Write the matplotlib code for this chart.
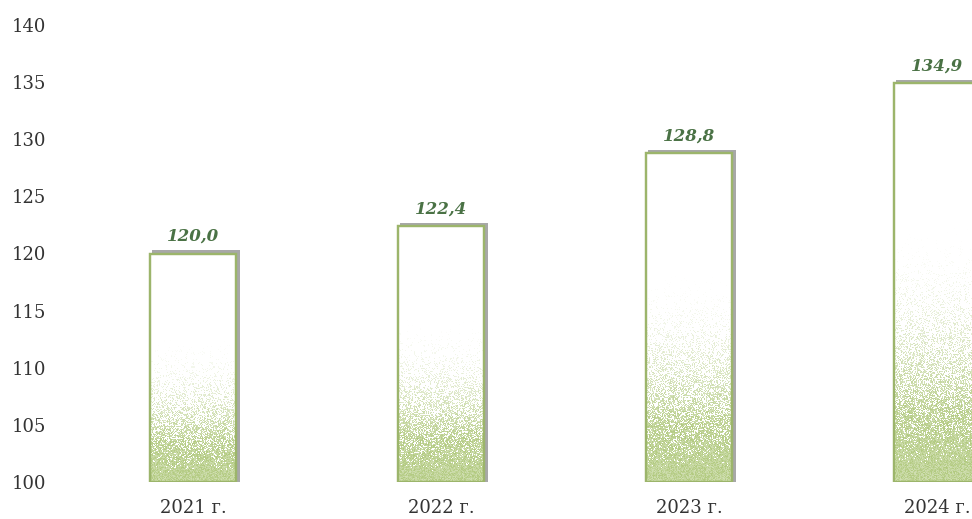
import numpy as np
import matplotlib
matplotlib.use("Agg")
import matplotlib.pyplot as plt
from matplotlib.patches import Rectangle

years = ["2021 г.", "2022 г.", "2023 г.", "2024 г."]
values = [120.0, 122.4, 128.8, 134.9]
labels = ["120,0", "122,4", "128,8", "134,9"]
yticks = [100, 105, 110, 115, 120, 125, 130, 135, 140]

plt.rcParams["font.family"] = ["DejaVu Serif"]

fig = plt.figure(figsize=(9.72, 5.19), dpi=100, facecolor="white")
ax = fig.add_axes([60 / 972, 37 / 519, 912 / 972, 457 / 519])

base = 100
w = 0.35
xs = np.arange(len(values))
ax.set_xlim(-0.536, 3.141)
ax.set_ylim(base, 140)

# pixel -> data helpers for the shadow offset
px_x = (3.141 + 0.536) / 912
px_y = 40 / 457

rng = np.random.default_rng(3)
green = np.array([172, 198, 118]) / 255.0

for x, v, lab in zip(xs, values, labels):
    h = v - base
    # soft grey shadow, up and to the right
    ax.add_patch(Rectangle((x - w / 2 + 2 * px_x, base), w + 1.5 * px_x, h + 3 * px_y,
                           facecolor="#a8a8a8", edgecolor="none", zorder=1))
    bar = Rectangle((x - w / 2, base), w, h, facecolor="white",
                    edgecolor="#9cb56b", lw=1.6, zorder=2)
    ax.add_patch(bar)

    # speckled gradient: dense green at the bottom, fading upward
    ny, nx = int(h * 11.4), 88
    t = np.linspace(0, 1, ny)[:, None]           # 0 bottom -> 1 top
    dens = np.clip(1.0 - t / 0.65, 0, 1) ** 1.5
    noise = rng.random((ny, nx))
    alpha = np.where(noise < dens * 1.1, 0.55 + 0.4 * rng.random((ny, nx)), 0.0)
    alpha = alpha * np.clip(dens * 1.6, 0, 1)
    img = np.zeros((ny, nx, 4))
    img[..., :3] = green
    img[..., 3] = alpha
    im = ax.imshow(img, origin="lower", extent=(x - w / 2, x + w / 2, base, v),
                   aspect="auto", interpolation="nearest", zorder=3)
    im.set_clip_path(bar)
    ax.add_patch(Rectangle((x - w / 2, base), w, h, facecolor="none",
                           edgecolor="#9cb56b", lw=1.6, zorder=4))

    ax.text(x, v + 0.75, lab, ha="center", va="bottom", fontsize=12,
            fontweight="bold", fontstyle="italic", color="#4a7245", zorder=5)

ax.set_xticks(xs)
ax.set_xticklabels(years)
ax.set_yticks(yticks)
ax.tick_params(axis="both", length=0, labelsize=13, colors="#333333")
ax.tick_params(axis="x", pad=12)
ax.tick_params(axis="y", pad=10)
for s in ax.spines.values():
    s.set_visible(False)

fig.savefig("out.png", dpi=100, facecolor="white")
